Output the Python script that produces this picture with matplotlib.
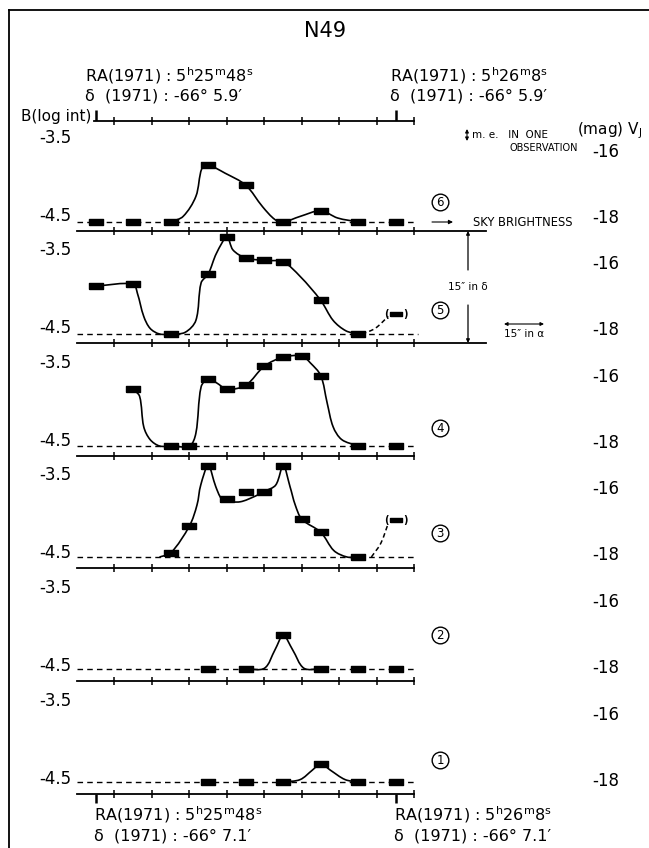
import matplotlib
matplotlib.use("Agg")
import matplotlib.pyplot as plt
from matplotlib.path import Path
from matplotlib.patches import PathPatch
import numpy as np

# scan positions are in units of one tick step, brightness in B (log int)
# --- scan 6 ---
pts6_u = [0.5, 1.5, 2.5, 3.5, 4.5, 5.5, 6.5, 7.5, 8.5]
pts6_b = [-4.5, -4.5, -4.5, -3.79, -4.04, -4.5, -4.36, -4.5, -4.5]
trace6_u = [2.5, 2.83, 3.17, 3.33, 3.5, 3.95, 4.5, 4.95, 5.28, 5.5, 5.95, 6.5, 6.95, 7.5]
trace6_b = [-4.5, -4.43, -4.18, -3.83, -3.79, -3.89, -4.04, -4.31, -4.47, -4.5, -4.43, -4.36, -4.45, -4.5]
# --- scan 5 ---
pts5_u = [0.5, 1.5, 2.5, 3.5, 4.0, 4.5, 5.0, 5.5, 6.5, 7.5]
pts5_b = [-3.9, -3.875, -4.5, -3.75, -3.29, -3.55, -3.58, -3.6, -4.08, -4.5]
unc5_u, unc5_b = [8.5], [-4.25]
trace5_u = [0.5, 1.5, 1.61, 1.78, 1.95, 2.2, 2.5, 2.88, 3.17, 3.31, 3.5, 3.72, 4.0,
            4.16, 4.5, 5.0, 5.5, 5.95, 6.5, 6.83, 7.17, 7.5]
trace5_b = [-3.9, -3.875, -3.99, -4.28, -4.43, -4.5, -4.5, -4.48, -4.33, -3.86, -3.75, -3.49, -3.29,
            -3.45, -3.55, -3.58, -3.6, -3.78, -4.08, -4.33, -4.46, -4.5]
dash5_u = [7.6, 7.95, 8.3]
dash5_b = [-4.5, -4.43, -4.28]
# --- scan 4 ---
pts4_u = [1.5, 2.5, 3.0, 3.5, 4.0, 4.5, 5.0, 5.5, 6.0, 6.5, 7.5, 8.5]
pts4_b = [-3.79, -4.5, -4.5, -3.66, -3.79, -3.74, -3.5, -3.39, -3.375, -3.62, -4.5, -4.5]
trace4_u = [1.5, 1.67, 1.78, 1.95, 2.2, 2.5, 3.0, 3.17, 3.31, 3.5, 3.72, 4.0, 4.5, 5.0,
            5.5, 6.0, 6.22, 6.5, 6.67, 6.83, 7.06, 7.5]
trace4_b = [-3.79, -3.88, -4.26, -4.42, -4.5, -4.5, -4.5, -4.34, -3.76, -3.66, -3.71, -3.79, -3.74, -3.5,
            -3.39, -3.375, -3.46, -3.62, -3.96, -4.26, -4.42, -4.5]
# --- scan 3 ---
pts3_u = [2.5, 3.0, 3.5, 4.0, 4.5, 5.0, 5.5, 6.0, 6.5, 7.5]
pts3_b = [-4.45, -4.11, -3.36, -3.77, -3.69, -3.69, -3.36, -4.03, -4.19, -4.5]
unc3_u, unc3_b = [8.5], [-4.04]
trace3_u = [2.2, 2.5, 3.0, 3.2, 3.3, 3.5, 3.7, 3.85, 4.0, 4.35, 4.75, 5.0, 5.3, 5.5,
            5.68, 5.82, 6.0, 6.5, 6.85, 7.2, 7.5]
trace3_b = [-4.5, -4.45, -4.11, -3.85, -3.6, -3.36, -3.62, -3.77, -3.8, -3.81, -3.74, -3.68, -3.6, -3.36,
            -3.62, -3.85, -4.03, -4.19, -4.42, -4.5, -4.5]
dash3_u = [7.85, 8.1, 8.3]
dash3_b = [-4.5, -4.33, -4.08]
# --- scan 2 ---
pts2_u = [3.5, 4.5, 5.5, 6.5, 7.5, 8.5]
pts2_b = [-4.5, -4.5, -4.08, -4.5, -4.5, -4.5]
trace2_u = [4.5, 5.0, 5.28, 5.5, 5.75, 6.05, 6.5]
trace2_b = [-4.5, -4.49, -4.26, -4.08, -4.26, -4.49, -4.5]
# --- scan 1 ---
pts1_u = [3.5, 4.5, 5.5, 6.5, 7.5, 8.5]
pts1_b = [-4.5, -4.5, -4.5, -4.27, -4.5, -4.5]
trace1_u = [5.5, 5.95, 6.28, 6.5, 6.75, 7.15, 7.5]
trace1_b = [-4.5, -4.47, -4.35, -4.27, -4.35, -4.47, -4.5]

scans = [
    (6, pts6_u, pts6_b, trace6_u, trace6_b, None),
    (5, pts5_u, pts5_b, trace5_u, trace5_b, (unc5_u, unc5_b, dash5_u, dash5_b)),
    (4, pts4_u, pts4_b, trace4_u, trace4_b, None),
    (3, pts3_u, pts3_b, trace3_u, trace3_b, (unc3_u, unc3_b, dash3_u, dash3_b)),
    (2, pts2_u, pts2_b, trace2_u, trace2_b, None),
    (1, pts1_u, pts1_b, trace1_u, trace1_b, None),
]

# layout (pixels)
W, H = 649, 848
X0, XU = 77.0, 37.5        # pixel of u=0, pixels per tick step
YU = 80.0                  # pixels per unit of log int
base_px = [231, 343, 456, 568, 681, 794]
sky_off = [9, 9, 10, 11, 12, 12]
circ_px = [202, 310, 428, 533, 635, 760]
axis_end = [10.9, 10.9, 9, 9, 9, 9]
dash_end = [9.0, 9.1, 9.0, 9.0, 9.0, 9.0]

rect = [(-1, -0.42), (1, -0.42), (1, 0.42), (-1, 0.42), (-1, -0.42)]


def smooth_path(us, bs):
    p = np.column_stack([np.asarray(us) * XU, np.asarray(bs) * YU])
    t = np.concatenate([[0], np.cumsum(np.hypot(*np.diff(p, axis=0).T))])
    m = np.zeros_like(p)
    m[0] = (p[1] - p[0]) / (t[1] - t[0])
    m[-1] = (p[-1] - p[-2]) / (t[-1] - t[-2])
    for i in range(1, len(p) - 1):
        m[i] = (p[i + 1] - p[i - 1]) / (t[i + 1] - t[i - 1])
    verts, codes = [p[0]], [Path.MOVETO]
    for i in range(len(p) - 1):
        h = t[i + 1] - t[i]
        verts += [p[i] + m[i] * h / 3, p[i + 1] - m[i + 1] * h / 3, p[i + 1]]
        codes += [Path.CURVE4] * 3
    return Path(np.array(verts) / [XU, YU], codes)


def strip(base, off, end, top=100):
    ax = fig.add_axes([0, 1 - base / H, 1, top / H])
    ax.set_xlim(-X0 / XU, (W - X0) / XU)
    lo = -4.5 - off / YU
    ax.set_ylim(lo, lo + top / YU)
    ax.patch.set_alpha(0)
    for s in ("top", "left", "right"):
        ax.spines[s].set_visible(False)
    ax.spines["bottom"].set_linewidth(1.3)
    ax.spines["bottom"].set_bounds(0, end)
    ax.set_xticks(range(1, 10))
    ax.set_yticks([])
    ax.tick_params(axis="x", direction="inout", length=6, width=1.1, labelbottom=False)
    return ax, lo


fig = plt.figure(figsize=(W / 100, H / 100), dpi=100)
fig.patch.set_facecolor("white")

# overlay in pixel coordinates for frame and lettering
ax0 = fig.add_axes([0, 0, 1, 1])
ax0.set_xlim(0, W)
ax0.set_ylim(H, 0)
ax0.axis("off")
ax0.plot([9, 9], [10, H], color="k", lw=1.3)
ax0.plot([9, W], [10, 10], color="k", lw=1.3)

ax0.text(325, 31, "N49", ha="center", va="center", fontsize=15)
ra_l = r"RA(1971) : 5$^{\rm h}$25$^{\rm m}$48$^{\rm s}$"
ra_r = r"RA(1971) : 5$^{\rm h}$26$^{\rm m}$8$^{\rm s}$"
ax0.text(85, 76, ra_l, ha="left", va="center", fontsize=11.5)
ax0.text(85, 96, "δ  (1971) : -66° 5.9′", ha="left", va="center", fontsize=11.5)
ax0.text(390, 76, ra_r, ha="left", va="center", fontsize=11.5)
ax0.text(390, 96, "δ  (1971) : -66° 5.9′", ha="left", va="center", fontsize=11.5)
ax0.text(94, 815, ra_l, ha="left", va="center", fontsize=11.5)
ax0.text(94, 836, "δ  (1971) : -66° 7.1′", ha="left", va="center", fontsize=11.5)
ax0.text(394, 815, ra_r, ha="left", va="center", fontsize=11.5)
ax0.text(394, 836, "δ  (1971) : -66° 7.1′", ha="left", va="center", fontsize=11.5)
ax0.text(91, 117, "B(log int)", ha="right", va="center", fontsize=11)

ax0.text(577, 131, r"(mag) V$_{\rm J}$", ha="left", va="center", fontsize=11)
ax0.annotate("", xy=(467, 129), xytext=(467, 141),
             arrowprops=dict(arrowstyle="<|-|>", lw=0.8, color="k", mutation_scale=5,
                             shrinkA=0, shrinkB=0))
ax0.text(472, 135, "m. e.   IN  ONE", ha="left", va="center", fontsize=7.5)
ax0.text(509, 148, "OBSERVATION", ha="left", va="center", fontsize=7)

ax0.annotate("", xy=(453, 222), xytext=(432, 222),
             arrowprops=dict(arrowstyle="-|>", lw=0.8, color="k", mutation_scale=6,
                             shrinkA=0, shrinkB=0))
ax0.text(473, 222, "SKY BRIGHTNESS", ha="left", va="center", fontsize=8.3)

ax0.annotate("", xy=(468, 231), xytext=(468, 270),
             arrowprops=dict(arrowstyle="-|>", lw=0.9, color="k", mutation_scale=5,
                             shrinkA=0, shrinkB=0))
ax0.annotate("", xy=(468, 343), xytext=(468, 305),
             arrowprops=dict(arrowstyle="-|>", lw=0.9, color="k", mutation_scale=5,
                             shrinkA=0, shrinkB=0))
ax0.text(468, 287, "15″ in δ", ha="center", va="center", fontsize=7.5)
ax0.annotate("", xy=(504, 324), xytext=(544, 324),
             arrowprops=dict(arrowstyle="<|-|>", lw=0.8, color="k", mutation_scale=5,
                             shrinkA=0, shrinkB=0))
ax0.text(524, 334, "15″ in α", ha="center", va="center", fontsize=7.5)

# top scale bar with the start/end markers of the scans
axt, lot = strip(121, 0, 9, top=30)
axt.spines["bottom"].set_bounds(0.45, 9)
axt.vlines([0.5, 8.5], lot, lot + 11 / YU, color="k", lw=1.8)

for k, (num, pu, pb, tu, tb, extra) in enumerate(scans):
    base = base_px[k]
    ax, lo = strip(base, sky_off[k], axis_end[k])
    ax.plot([0, dash_end[k]], [-4.5, -4.5], color="k", lw=1.0, ls=(0, (4, 3)))
    ax.add_patch(PathPatch(smooth_path(tu, tb), fill=False, lw=1.2, ec="k", clip_on=False))
    ax.plot(pu, pb, ls="none", marker=rect, ms=9.5, color="k", clip_on=False)
    if extra is not None:
        uu, ub, du, db = extra
        ax.add_patch(PathPatch(smooth_path(du, db), fill=False, lw=1.1, ec="k",
                               ls=(0, (3, 2)), clip_on=False))
        ax.plot(uu, ub, ls="none", marker=rect, ms=8, color="k", clip_on=False)
        for u, b in zip(uu, ub):
            ax.text(u - 0.25, b, "(", ha="center", va="center", fontsize=7, fontweight="bold")
            ax.text(u + 0.25, b, ")", ha="center", va="center", fontsize=7, fontweight="bold")
    if num == 1:
        ax.vlines([0.5, 8.5], lo - 9 / YU, lo, color="k", lw=1.8, clip_on=False)

    # lettering of this scan
    ax0.text(71, base - 15, "-4.5", ha="right", va="center", fontsize=12)
    ax0.text(71, base - 93, "-3.5", ha="right", va="center", fontsize=12)
    ax0.text(606, base - 13, "-18", ha="center", va="center", fontsize=12)
    ax0.text(606, base - 79, "-16", ha="center", va="center", fontsize=12)
    ax0.plot([440], [circ_px[k]], marker="o", ms=12, mfc="none", mec="k", mew=1.0)
    ax0.text(440, circ_px[k] + 0.5, str(num), ha="center", va="center", fontsize=8.5)

fig.savefig("out.png", dpi=100)
